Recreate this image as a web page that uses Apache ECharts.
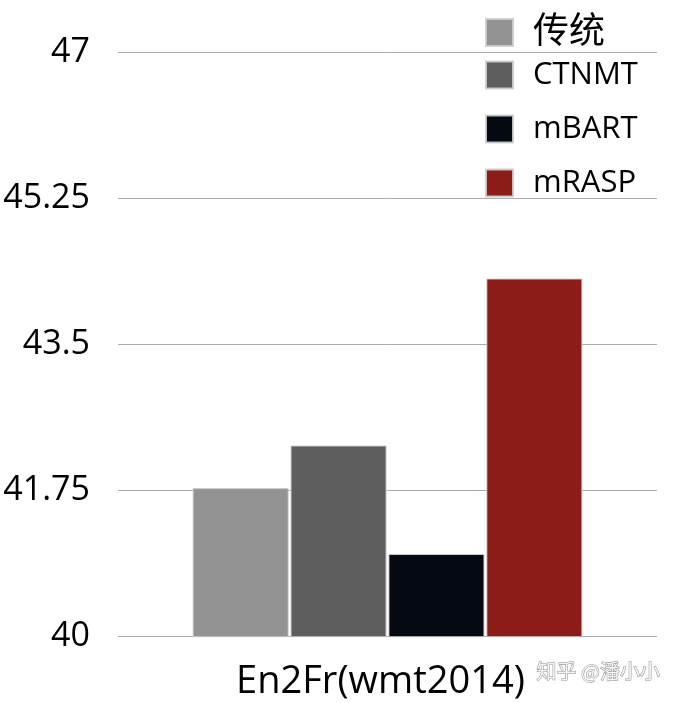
<!DOCTYPE html>
<html>
<head>
<meta charset="utf-8">
<script src="https://cdn.jsdelivr.net/npm/echarts@6/dist/echarts.min.js"></script>
<style>html,body{margin:0;padding:0;background:#fff}#c{width:674px;height:703px}</style>
</head>
<body>
<div id="c"></div>
<script>
const categories = ['En2Fr(wmt2014)'];
const seriesNames = ['传统', 'CTNMT', 'mBART', 'mRASP'];
const trad = [41.78];
const ctnmt = [42.29];
const mbart = [40.99];
const mrasp = [44.29];
const yTicks = [40, 41.75, 43.5, 45.25, 47];
const colors = ['#939393', '#5e5e5e', '#050a12', '#8b1c17'];
const seriesValues = [trad, ctnmt, mbart, mrasp];

const FONT = '"Open Sans", "Noto Sans CJK SC", sans-serif';
const chart = echarts.init(document.getElementById('c'), null, {renderer: 'canvas'});

const legendTops = [14.5, 59.5, 113.5, 167.5];
const legends = seriesNames.map((n, i) => ({
  data: [{name: n, icon: 'rect'}],
  icon: 'rect',
  left: 485,
  top: legendTops[i],
  orient: 'vertical',
  itemWidth: 27,
  itemHeight: 27,
  padding: 0,
  selectedMode: false,
  textStyle: {
    color: '#000',
    fontFamily: FONT,
    fontSize: i === 0 ? 36 : 31,
    lineHeight: 27,
    padding: [0, 0, 0, 15]
  }
}));

const series = seriesNames.map((n, i) => {
  const s = {
    name: n,
    type: 'bar',
    data: seriesValues[i],
    barWidth: 96,
    barGap: '2%',
    z: 3,
    itemStyle: {color: colors[i], borderColor: 'rgba(205,205,205,0.9)', borderWidth: 1}
  };
  if (i === 0) {
    s.markLine = {
      silent: true,
      symbol: 'none',
      z: 1,
      label: {show: false},
      lineStyle: {color: '#ababab', width: 1, type: 'solid'},
      emphasis: {disabled: true},
      animation: false,
      data: yTicks.map(v => ({yAxis: v}))
    };
  }
  return s;
});

chart.setOption({
  animation: false,
  backgroundColor: '#fff',
  legend: legends,
  grid: {left: 118, right: 17, top: 52.3, bottom: 66.3, containLabel: false},
  xAxis: {
    type: 'category',
    data: categories,
    axisLine: {show: false},
    axisTick: {show: false},
    axisLabel: {color: '#000', fontFamily: FONT, fontSize: 38, margin: 26, padding: [0, 14, 0, 0]}
  },
  yAxis: {
    type: 'value',
    min: 40,
    max: 47,
    axisLine: {show: false},
    axisTick: {show: false},
    splitLine: {show: false},
    axisLabel: {color: '#000', fontFamily: FONT, fontSize: 34, margin: 28, customValues: yTicks}
  },
  graphic: [{
    type: 'text',
    left: 536,
    top: 661,
    style: {text: '知乎 @潘小小', fontSize: 20, fontFamily: '"Noto Sans CJK SC", sans-serif', fill: '#f4f4f4', stroke: '#8c8c8c', lineWidth: 1}
  }],
  series: series
});
</script>
</body>
</html>
